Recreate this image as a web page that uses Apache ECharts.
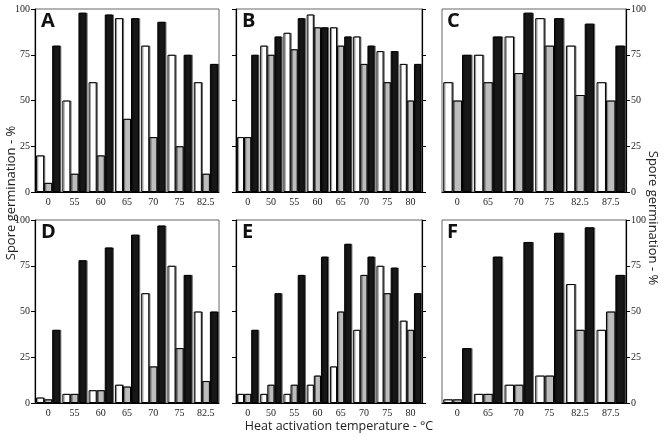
<!DOCTYPE html>
<html><head><meta charset="utf-8">
<script src="https://cdn.jsdelivr.net/npm/echarts@6/dist/echarts.min.js"></script>
<style>html,body{margin:0;padding:0;background:#fff}#c{width:664px;height:437px}</style>
</head><body><div id="c"></div>
<script>
// Categories (heat activation temperature, °C)
const catsA = ['0','55','60','65','70','75','82.5'];
const catsB = ['0','50','55','60','65','70','75','80'];
const catsC = ['0','65','70','75','82.5','87.5'];
const catsD = ['0','55','60','65','70','75','82.5'];
const catsE = ['0','50','55','60','65','70','75','80'];
const catsF = ['0','65','70','75','82.5','87.5'];

// Spore germination (%) - white, gray, black bars
const whiteA = [20,50,60,95,80,75,60];
const grayA  = [5,10,20,40,30,25,10];
const blackA = [80,98,97,95,93,75,70];

const whiteB = [30,80,87,97,90,85,77,70];
const grayB  = [30,75,78,90,80,70,60,50];
const blackB = [75,85,95,90,85,80,77,70];

const whiteC = [60,75,85,95,80,60];
const grayC  = [50,60,65,80,53,50];
const blackC = [75,85,98,95,92,80];

const whiteD = [3,5,7,10,60,75,50];
const grayD  = [2,5,7,9,20,30,12];
const blackD = [40,78,85,92,97,70,50];

const whiteE = [5,5,5,10,20,40,75,45];
const grayE  = [5,10,10,15,50,70,60,40];
const blackE = [40,60,70,80,87,80,74,60];

const whiteF = [2,5,10,15,65,40];
const grayF  = [2,5,10,15,40,50];
const blackF = [30,80,88,93,96,70];

const yTicks = [0,25,50,75,100];
const panelLetters = ['A','B','C','D','E','F'];
const yTitle = 'Spore germination - %';
const xTitle = 'Heat activation temperature - °C';

const panels = [
  {cats:catsA, w:whiteA, g:grayA, b:blackA},
  {cats:catsB, w:whiteB, g:grayB, b:blackB},
  {cats:catsC, w:whiteC, g:grayC, b:blackC},
  {cats:catsD, w:whiteD, g:grayD, b:blackD},
  {cats:catsE, w:whiteE, g:grayE, b:blackE},
  {cats:catsF, w:whiteF, g:grayF, b:blackF}
];

const colLeft = [35, 236, 442];
const colWidth = [184, 186, 184];
const rowTop = [9, 220];
const rowH = 183;
const labelSide = ['left','both','right'];

const grids = [], xAxes = [], yAxes = [], series = [], graphics = [];
const serif = '"Liberation Serif", "Times New Roman", serif';

panels.forEach((p, i) => {
  const col = i % 3, row = Math.floor(i / 3);
  grids.push({left: colLeft[col], top: rowTop[row], width: colWidth[col], height: rowH,
    show: true, borderColor: '#666', borderWidth: 1, backgroundColor: 'transparent'});
  xAxes.push({type:'category', gridIndex:i, data:p.cats,
    axisLine:{lineStyle:{color:'#000', width:1.2}},
    axisTick:{alignWithLabel:true, length:4, lineStyle:{color:'#000'}},
    axisLabel:{fontFamily:serif, fontSize:10, color:'#222', margin:5, interval:0}});
  const side = labelSide[col];
  const mainY = {type:'value', gridIndex:i, min:0, max:100, interval:25,
    position: side === 'right' ? 'right' : 'left',
    axisLine:{show:true, lineStyle:{color:'#000', width:1.2}},
    axisTick:{show:true, length:4, lineStyle:{color:'#000'}},
    splitLine:{show:false},
    axisLabel:{show: side !== 'both', fontFamily:serif, fontSize:10, color:'#222', margin:5}};
  const yIdx = yAxes.length;
  yAxes.push(mainY);
  if (side === 'both') {
    yAxes.push({type:'value', gridIndex:i, min:0, max:100, interval:25, position:'right',
      axisLine:{show:true, lineStyle:{color:'#000', width:1.2}},
      axisTick:{show:true, length:4, lineStyle:{color:'#000'}},
      splitLine:{show:false}, axisLabel:{show:false}});
  }
  const mk = (data, color) => ({type:'bar', xAxisIndex:i, yAxisIndex:yIdx, data:data,
    barGap:'0%', barCategoryGap:'8%', animation:false,
    itemStyle:{color:color, borderColor:'#000', borderWidth:1,
      shadowColor:'rgba(0,0,0,0.45)', shadowOffsetX:1.2, shadowBlur:0}});
  series.push(mk(p.w, '#ffffff'), mk(p.g, '#bdbdbd'), mk(p.b, '#171717'));
  graphics.push({type:'text', left: colLeft[col] + (col === 2 ? 5 : 6), top: rowTop[row] + 2,
    style:{text: panelLetters[i], font:'bold 20px "Open Sans"', fill:'#111'}});
});

graphics.push({type:'text', x:5, y:193, rotation:Math.PI/2,
  style:{text:yTitle, font:'13px "Open Sans"', fill:'#222', align:'center', verticalAlign:'top'}});
graphics.push({type:'text', x:659, y:218, rotation:-Math.PI/2,
  style:{text:yTitle, font:'13px "Open Sans"', fill:'#222', align:'center', verticalAlign:'top'}});
graphics.push({type:'text', x:339, y:420,
  style:{text:xTitle, font:'12.5px "Open Sans"', fill:'#222', align:'center', verticalAlign:'top'}});

const chart = echarts.init(document.getElementById('c'), null, {renderer:'canvas'});
chart.setOption({
  animation:false,
  backgroundColor:'#fff',
  grid:grids, xAxis:xAxes, yAxis:yAxes, series:series, graphic:graphics
});
</script></body></html>
